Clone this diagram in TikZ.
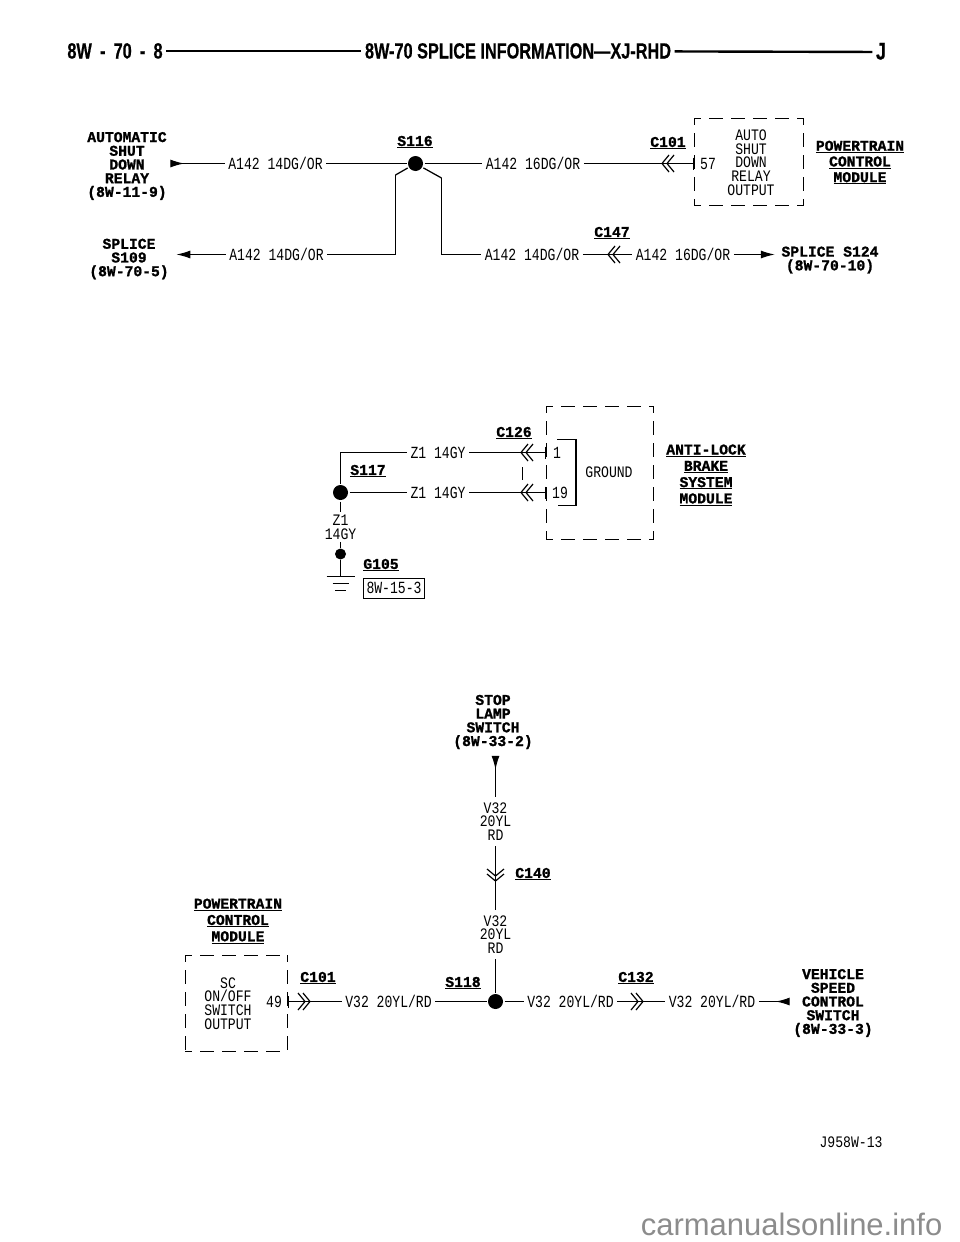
\documentclass[tikz,border=0pt]{standalone}
\usepackage{fontspec}
\usepackage{tikz}
\usetikzlibrary{arrows.meta}
\newfontfamily\wirefont[FakeStretch=0.77]{Liberation Mono}
\newfontfamily\pinfont[FakeStretch=0.82]{Liberation Mono}
\newfontfamily\tagfont[FakeStretch=0.98, BoldFeatures={FakeBold=1.2}]{Liberation Mono}
\newfontfamily\headfont[FakeStretch=0.74, BoldFeatures={FakeBold=0.6}]{Liberation Sans}
\newfontfamily\markfont{Liberation Sans}
\tikzset{>={Latex[width=8pt,length=14pt]}}
\tikzset{backhead/.style={>={Latex[reversed,width=8pt,length=14pt]}}}
\tikzset{chevrons/.pic={
    \foreach \d in {0,5}{\draw[line width=1.2pt] (\d+7,-8.5) -- (\d,0) -- (\d+7,8.5);}
}}
\begin{document}
\begin{tikzpicture}[x=1pt, y=-1pt, line width=1.25pt, every node/.style={inner sep=3pt, align=center},
    wirelbl/.style={font=\wirefont\fontsize{17}{13.7}\selectfont, text height=11pt, text depth=0pt},
    textlbl/.style={font=\pinfont\fontsize{16}{13.7}\selectfont},
    tag/.style={font=\tagfont\bfseries\fontsize{15}{13.7}\selectfont},
    modtag/.style={font=\tagfont\bfseries\fontsize{15}{15.7}\selectfont},
    headlbl/.style={font=\headfont\bfseries\fontsize{22}{22}\selectfont, text height=15pt, text depth=0pt},
    splice/.style={circle, fill=black, inner sep=0pt, minimum size=15pt, outer sep=1.5pt},
    eyelet/.style={circle, fill=black, inner sep=0pt, minimum size=11pt},
    dashbox/.style={inner sep=0pt},
    sideline/.style={dash pattern=on 14pt off 8pt, dash phase=7pt},
    pinend/.style={-{Bar[width=12pt]}}]
    \useasboundingbox (0,0) rectangle (960,1242);

    \node[headlbl] (pagenum) at (115,51) {8W\ \,-\ \,70\ \,-\ \,8};
    \node[headlbl] (title) at (518,51) {8W-70 SPLICE INFORMATION—XJ-RHD};
    \node[headlbl, font=\headfont\bfseries\fontsize{24}{24}\selectfont] (jmark) at (881,52) {J};
    \draw[line width=2.4pt] (pagenum) -- (title);
    \draw[line width=2.4pt] (title) -- (jmark);

    \node[tag] (asd) at (127,166) {AUTOMATIC\\SHUT\\DOWN\\RELAY\\(8W-11-9)};
    \node[tag] (s109) at (129,259) {SPLICE\\S109\\(8W-70-5)};
    \node[tag] (s116tag) at (415,142) {\underline{S116}};
    \node[splice] (s116) at (415.5,163.5) {};
    \node[wirelbl] (asdwire) at (275.5,163.5) {A142 14DG/OR};
    \node[wirelbl] (pcmwire) at (533,163.5) {A142 16DG/OR};
    \node[wirelbl] (s109wire) at (276.5,254.5) {A142 14DG/OR};
    \node[wirelbl] (c147wire) at (532,254.5) {A142 14DG/OR};
    \node[wirelbl] (s124wire) at (683,254.5) {A142 16DG/OR};
    \node[tag] (c101tag) at (668,143) {\underline{C101}};
    \node[tag] (c147tag) at (612,233) {\underline{C147}};
    \node[tag] (s124) at (830,260) {SPLICE S124\\(8W-70-10)};
    \node[dashbox, minimum width=108pt, minimum height=86pt] (pcmbox) at (749,162) {};
    \node[textlbl] (asdtext) at (751,162.5) {AUTO\\SHUT\\DOWN\\RELAY\\OUTPUT};
    \node[wirelbl] (pin57) at (708,163.5) {57};
    \node[modtag] (pcm) at (860,162.5) {\underline{POWERTRAIN}\\\underline{CONTROL}\\\underline{MODULE}};
    \coordinate (s116l) at (395.5,175);
    \coordinate (s116r) at (441.5,178);

    \draw[->, backhead] (asdwire) -- (asd.east |- asdwire);
    \draw (asdwire) -- (s116);
    \draw (s116) -- (pcmwire);
    \draw[pinend] (pcmwire) -- (pcmbox.west |- pcmwire);
    \pic at (662,163.5) {chevrons};
    \draw[->, shorten >=4pt] (s109wire) -- (s109.east |- s109wire);
    \draw (s116) -- (s116l);
    \draw (s116l) |- (s109wire);
    \draw (s116) -- (s116r);
    \draw (s116r) |- (c147wire);
    \draw (c147wire) -- (s124wire);
    \pic at (608,254.5) {chevrons};
    \draw[->, shorten >=3pt] (s124wire) -- (s124.west |- s124wire);

    \node[dashbox, minimum width=106pt, minimum height=132pt] (absbox) at (600,473) {};
    \node[tag] (c126tag) at (514,433) {\underline{C126}};
    \node[wirelbl] (z1top) at (438,452.5) {Z1 14GY};
    \node[wirelbl] (z1mid) at (438,492.5) {Z1 14GY};
    \node[splice] (s117) at (340.5,492.5) {};
    \node[tag] (s117tag) at (368,471) {\underline{S117}};
    \node[wirelbl] (pin1) at (557,453) {1};
    \node[wirelbl] (pin19) at (560,492.5) {19};
    \node[textlbl] (ground) at (609,472) {GROUND};
    \node[modtag, font=\tagfont\bfseries\fontsize{15}{16.3}\selectfont] (abs) at (706,475) {\underline{ANTI-LOCK}\\\underline{BRAKE}\\\underline{SYSTEM}\\\underline{MODULE}};
    \node[textlbl, inner sep=2pt] (z1low) at (340.5,527) {Z1\\14GY};
    \node[eyelet] (g105dot) at (340.5,554) {};
    \coordinate (gnd) at (340.5,576.5);
    \node[tag] (g105tag) at (381,565) {\underline{G105}};
    \node[wirelbl, draw, line width=1pt, inner sep=0pt, minimum width=61pt, minimum height=20pt] (g105ref) at (394,588) {8W-15-3};
    \coordinate (gndtop) at (557,439.5);
    \coordinate (gndbot) at (558,505.5);
    \coordinate (splitt) at (522.5,467);
    \coordinate (splitb) at (522.5,480);

    \draw (z1top) -| (s117);
    \draw (s117) -- (z1mid);
    \draw[pinend] (z1top) -- (absbox.west |- z1top);
    \draw[pinend] (z1mid) -- (absbox.west |- z1mid);
    \pic at (521,452.5) {chevrons};
    \pic at (521,492.5) {chevrons};
    \draw (splitt) -- (splitb);
    \draw (gndtop) -- ++(19,0) |- (gndbot);
    \draw (s117) -- (z1low);
    \draw (z1low) -- (g105dot);
    \draw (g105dot) -- (gnd);
    \foreach \w/\d in {14/0,8/7,5.5/14}
        \draw ([shift={(-\w,\d)}]gnd) -- ([shift={(\w,\d)}]gnd);

    \node[tag] (stop) at (493,722) {STOP\\LAMP\\SWITCH\\(8W-33-2)};
    \node[textlbl, inner sep=5pt] (v32up) at (495.5,821.5) {V32\\20YL\\RD};
    \node[tag] (c140tag) at (533,874) {\underline{C140}};
    \node[textlbl, inner sep=5pt] (v32low) at (495.5,934.5) {V32\\20YL\\RD};
    \node[splice] (s118) at (495.5,1001.5) {};
    \node[tag] (s118tag) at (463,983) {\underline{S118}};
    \node[modtag, font=\tagfont\bfseries\fontsize{15}{16.3}\selectfont] (pcm2) at (238,921) {\underline{POWERTRAIN}\\\underline{CONTROL}\\\underline{MODULE}};
    \node[dashbox, minimum width=101pt, minimum height=95pt] (scbox) at (236.5,1003.5) {};
    \node[textlbl] (sctext) at (228,1003.5) {SC\\ON/OFF\\SWITCH\\OUTPUT};
    \node[wirelbl] (pin49) at (274,1001.5) {49};
    \node[tag] (c101low) at (318,978) {\underline{C101}};
    \node[wirelbl] (scwire) at (388.5,1001.5) {V32 20YL/RD};
    \node[wirelbl] (c132wire) at (570.5,1001.5) {V32 20YL/RD};
    \node[wirelbl] (vssw) at (712,1001.5) {V32 20YL/RD};
    \node[tag] (c132tag) at (636,978) {\underline{C132}};
    \node[tag] (vsc) at (833,1003) {VEHICLE\\SPEED\\CONTROL\\SWITCH\\(8W-33-3)};

    \draw[->, backhead, shorten >=3pt] (v32up) -- (stop.south -| v32up);
    \draw (v32up) -- (v32low);
    \pic[rotate=90] at (495.5,881) {chevrons};
    \draw (v32low) -- (s118);
    \draw[pinend] (scwire) -- (scbox.east |- scwire);
    \pic[rotate=180] at (310,1001.5) {chevrons};
    \draw (scwire) -- (s118);
    \draw (s118) -- (c132wire);
    \draw (c132wire) -- (vssw);
    \pic[rotate=180] at (643,1001.5) {chevrons};
    \draw[->, backhead] (vssw) -- (vsc.west |- vssw);

    \foreach \b in {pcmbox,absbox,scbox} {
        \draw[sideline] (\b.north west) -- (\b.north east);
        \draw[sideline] (\b.south west) -- (\b.south east);
        \draw[sideline] (\b.north west) -- (\b.south west);
        \draw[sideline] (\b.north east) -- (\b.south east);
    }

    \node[textlbl] (figid) at (851,1142) {J958W-13};
    \node[font=\markfont\fontsize{31}{31}\selectfont, text=black!45, anchor=east, inner sep=0pt] (mark) at (943,1224) {carmanualsonline.info};
\end{tikzpicture}
\end{document}
